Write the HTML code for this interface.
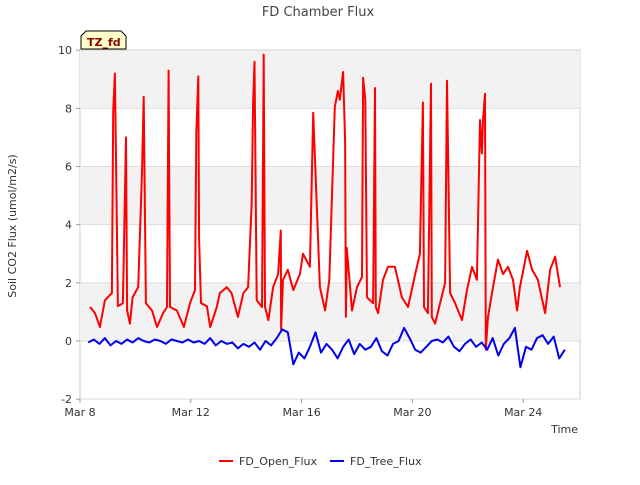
<!DOCTYPE html>
<html><head><meta charset="utf-8"><style>
body{margin:0;background:#fff;font-family:"Liberation Sans","DejaVu Sans",sans-serif}
text{font-family:"DejaVu Sans","Liberation Sans",sans-serif}
</style></head><body>
<svg id="c" width="640" height="480" xmlns="http://www.w3.org/2000/svg">
<text x="318" y="16" font-size="13" fill="#444" text-anchor="middle">FD Chamber Flux</text>
<g id="bands"></g>
<g id="axes"></g>
<path id="red" fill="none" stroke="#ff0000" stroke-width="2" stroke-linejoin="round"/>
<path id="blue" fill="none" stroke="#0000ee" stroke-width="2" stroke-linejoin="round"/>
<g><path d="M81,49 L81,36 L86,31 L121,31 L126,36 L126,49 Z" fill="#ffffcc" stroke="#000" stroke-width="1"/><text x="87" y="46" font-size="11" font-weight="bold" fill="#8b0000">TZ_fd</text></g>
<text x="16" y="226" font-size="11" fill="#333" text-anchor="middle" transform="rotate(-90 16 226)">Soil CO2 Flux (umol/m2/s)</text>
<text x="578" y="433" font-size="11" fill="#333" text-anchor="end">Time</text>
<g><line x1="219" y1="461" x2="233" y2="461" stroke="#ff0000" stroke-width="2"/><text x="239" y="465" font-size="11" fill="#333">FD_Open_Flux</text></g>
<g><line x1="330" y1="461" x2="344" y2="461" stroke="#0000ee" stroke-width="2"/><text x="350" y="465" font-size="11" fill="#333">FD_Tree_Flux</text></g>
</svg>
<script>
const yTicks=[-2,0,2,4,6,8,10];
const xTickDays=[0,4,8,12,16];
const xTickLabels=["Mar 8","Mar 12","Mar 16","Mar 20","Mar 24"];
const openDays=[0.36,0.54,0.72,0.9,1.15,1.2,1.26,1.37,1.55,1.66,1.7,1.8,1.9,2.1,2.24,2.3,2.38,2.6,2.78,3.0,3.14,3.2,3.25,3.5,3.75,3.97,4.15,4.2,4.27,4.3,4.37,4.58,4.7,4.94,5.05,5.3,5.47,5.7,5.9,6.07,6.2,6.25,6.3,6.38,6.57,6.63,6.68,6.8,6.97,7.15,7.25,7.26,7.33,7.5,7.7,7.94,8.05,8.3,8.42,8.66,8.85,9.0,9.2,9.31,9.38,9.5,9.57,9.6,9.63,9.82,10.0,10.18,10.22,10.3,10.36,10.58,10.65,10.68,10.76,10.94,11.12,11.37,11.62,11.84,12.1,12.27,12.38,12.42,12.56,12.67,12.7,12.82,13.0,13.18,13.25,13.36,13.54,13.79,13.97,14.15,14.33,14.44,14.51,14.55,14.62,14.65,14.73,14.91,15.09,15.27,15.45,15.63,15.78,15.88,16.14,16.32,16.53,16.79,16.97,17.15,17.33];
const openVals=[1.17,0.96,0.48,1.4,1.65,7.9,9.2,1.2,1.3,7.0,1.05,0.6,1.5,1.85,5.8,8.4,1.3,1.05,0.48,0.96,1.17,9.3,1.17,1.05,0.48,1.3,1.75,7.15,9.1,3.5,1.3,1.2,0.48,1.17,1.65,1.85,1.65,0.83,1.65,1.85,4.75,8.2,9.6,1.4,1.17,9.85,1.17,0.72,1.85,2.3,3.8,0.4,2.1,2.45,1.75,2.3,3.0,2.55,7.85,1.85,1.05,2.1,8.05,8.6,8.3,9.25,6.9,0.83,3.2,1.05,1.85,2.2,9.05,8.3,1.5,1.3,8.7,1.17,0.96,2.1,2.55,2.55,1.5,1.17,2.3,3.0,8.2,1.17,0.96,8.85,0.83,0.6,1.3,2.0,8.95,1.65,1.3,0.72,1.75,2.55,2.1,7.6,6.45,7.6,8.5,-0.3,0.83,1.85,2.8,2.3,2.55,2.1,1.05,1.85,3.1,2.45,2.1,0.96,2.45,2.9,1.85];
const treeStart=0.3, treeStep=0.2;
const treeVals=[-0.05,0.05,-0.1,0.1,-0.15,0.0,-0.1,0.05,-0.05,0.1,0.0,-0.05,0.05,0.0,-0.1,0.05,0.0,-0.05,0.05,-0.05,0.0,-0.1,0.1,-0.15,0.0,-0.1,-0.05,-0.25,-0.1,-0.2,-0.05,-0.3,0.0,-0.15,0.1,0.4,0.3,-0.8,-0.4,-0.6,-0.2,0.3,-0.4,-0.1,-0.3,-0.6,-0.2,0.05,-0.45,-0.1,-0.3,-0.2,0.1,-0.35,-0.5,-0.1,0.0,0.45,0.1,-0.3,-0.4,-0.2,0.0,0.05,-0.05,0.15,-0.2,-0.35,-0.1,0.05,-0.2,-0.05,-0.3,0.1,-0.5,-0.1,0.1,0.45,-0.9,-0.2,-0.3,0.1,0.2,-0.1,0.15,-0.6,-0.3];
const X=d=>80+d*27.7, Y=v=>341-v*29.08;
const ns="http://www.w3.org/2000/svg";
function mk(t,a,p){const e=document.createElementNS(ns,t);for(const k in a)e.setAttribute(k,a[k]);p.appendChild(e);return e;}
const bands=document.getElementById('bands'),axes=document.getElementById('axes');
mk('rect',{x:80,y:50,width:500,height:349,fill:'#fff',stroke:'#ccc'},bands);
for(let i=0;i<yTicks.length-1;i++){
 if(i%2==1){const r=mk('rect',{x:80,y:Y(yTicks[i+1]),width:500,height:Y(yTicks[i])-Y(yTicks[i+1]),fill:'#f2f2f2'},bands);
 
 }
}
yTicks.forEach(v=>{
 const l=mk('line',{x1:80,x2:580,y1:Y(v),y2:Y(v),stroke:'#ddd'},axes);
 
 
 mk('line',{x1:76,x2:80,y1:Y(v),y2:Y(v),stroke:'#999'},axes);
 const t=mk('text',{x:72,y:Y(v)+4,'font-size':11,fill:'#333','text-anchor':'end'},axes);t.textContent=v;
 
 
});
xTickDays.forEach((d,i)=>{
 mk('line',{x1:X(d),x2:X(d),y1:399,y2:403,stroke:'#999'},axes);
 const t=mk('text',{x:X(d),y:416,'font-size':11,fill:'#333','text-anchor':'middle'},axes);t.textContent=xTickLabels[i];
 
 
});
document.getElementById('red').setAttribute('d',openDays.map((d,i)=>(i?'L':'M')+X(d).toFixed(1)+','+Y(openVals[i]).toFixed(1)).join(''));
document.getElementById('blue').setAttribute('d',treeVals.map((v,i)=>(i?'L':'M')+X(treeStart+i*treeStep).toFixed(1)+','+Y(v).toFixed(1)).join(''));
</script>
</body></html>
